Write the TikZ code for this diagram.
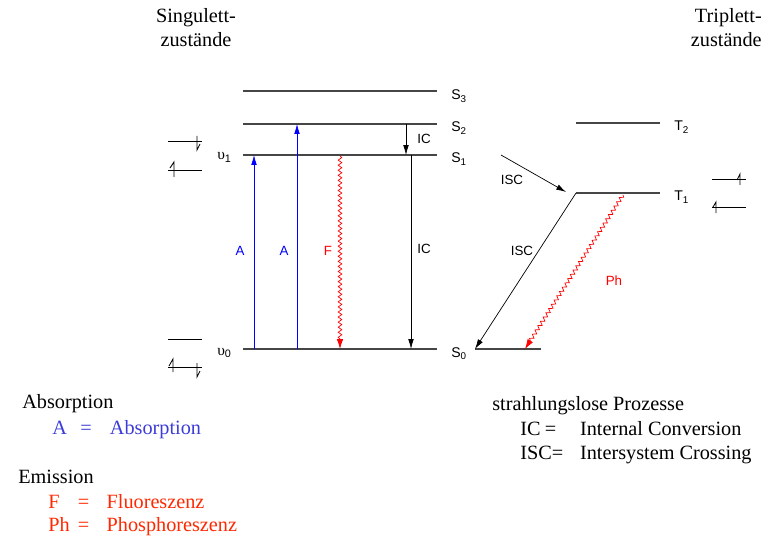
\documentclass[tikz,border=0pt]{standalone}
\usepackage{fontspec}
\setmainfont{Liberation Serif}
\setsansfont{Liberation Sans}
\usepackage{xcolor}
\usepackage{tikz}
\usetikzlibrary{arrows.meta,positioning,calc,decorations.pathmorphing}
\definecolor{absblue}{RGB}{0,0,255}
\definecolor{legblue}{RGB}{60,60,215}
\definecolor{emred}{RGB}{255,40,0}
\definecolor{levelgray}{RGB}{70,70,70}
\tikzset{
    level/.style={
        draw=levelgray,
        line width=0.75pt
    },
    transition/.style={
        -{Latex[length=7pt,width=4pt]},
        line width=0.5pt
    },
    absorb/.style={
        transition,
        draw=absblue
    },
    emit/.style={
        -{Latex[length=7pt,width=4.5pt]},
        draw=red,
        line width=0.5pt,
        decorate,
        decoration={snake, amplitude=1.3pt, segment length=3.6pt, post length=6pt}
    },
    spin/.style={
        line width=0.6pt
    },
    statelabel/.style={
        anchor=base west,
        inner sep=0pt,
        font=\sffamily\fontsize{10}{12}\selectfont
    },
    translabel/.style={
        inner sep=0pt,
        font=\sffamily\fontsize{9.5}{11}\selectfont
    },
    heading/.style={
        inner sep=0pt,
        font=\fontsize{14.4}{17}\selectfont
    },
    legend/.style={
        anchor=base west,
        inner sep=0pt,
        font=\fontsize{14.4}{17}\selectfont
    }
}

\begin{document}
\begin{tikzpicture}[x=0.025cm, y=-0.025cm]
\useasboundingbox (0,0) rectangle (769,538);

% Headings
\node[heading, align=center, anchor=north] (singulett) at (196,8) {Singulett-\\zustände};
\node[heading, align=right, anchor=north east] (triplett) at (762,8) {Triplett-\\zustände};

% Singlet levels
\coordinate (s3-left) at (243,91);
\coordinate (s3-right) at (437,91);
\coordinate (s2-left) at (243,124);
\coordinate (s2-right) at (437,124);
\coordinate (s1-left) at (243,155);
\coordinate (s1-right) at (437,155);
\coordinate (s0-left) at (243,349);
\coordinate (s0-right) at (437,349);
\draw[level] (s3-left) -- (s3-right);
\draw[level] (s2-left) -- (s2-right);
\draw[level] (s1-left) -- (s1-right);
\draw[level] (s0-left) -- (s0-right);
\node[statelabel] (s3-label) at (451,100) {S\textsubscript{3}};
\node[statelabel] (s2-label) at (451,132) {S\textsubscript{2}};
\node[statelabel] (s1-label) at (451,163) {S\textsubscript{1}};
\node[statelabel] (s0-label) at (451,357) {S\textsubscript{0}};
\node[statelabel, font=\fontsize{11}{12}\selectfont] (v1-label) at (217,160) {υ\textsubscript{\sffamily 1}};
\node[statelabel, font=\fontsize{11}{12}\selectfont] (v0-label) at (217,355) {υ\textsubscript{\sffamily 0}};

% Triplet levels
\coordinate (t2-left) at (576,123);
\coordinate (t2-right) at (660,123);
\coordinate (t1-left) at (576,193);
\coordinate (t1-right) at (660,193);
\coordinate (s0t-left) at (475,349);
\coordinate (s0t-right) at (541,349);
\draw[level] (t2-left) -- (t2-right);
\draw[level] (t1-left) -- (t1-right);
\draw[level] (s0t-left) -- (s0t-right);
\node[statelabel] (t2-label) at (674,131) {T\textsubscript{2}};
\node[statelabel] (t1-label) at (674,201) {T\textsubscript{1}};

% Absorption
\coordinate (a1-start) at (254,349);
\coordinate (a1-end) at (254,155);
\coordinate (a2-start) at (297,349);
\coordinate (a2-end) at (297,124);
\draw[absorb] (a1-start) -- (a1-end);
\draw[absorb] (a2-start) -- (a2-end);
\node[translabel, text=absblue] (a1-label) at (240,251) {A};
\node[translabel, text=absblue] (a2-label) at (284,251) {A};

% Fluorescence
\coordinate (f-start) at (340,156);
\coordinate (f-end) at (340,349);
\draw[emit] (f-start) -- (f-end);
\node[translabel, text=red] (f-label) at (328,251) {F};

% Internal conversion
\coordinate (ic1-start) at (406,124);
\coordinate (ic1-end) at (406,155);
\coordinate (ic2-start) at (411,155);
\coordinate (ic2-end) at (411,349);
\draw[transition] (ic1-start) -- (ic1-end);
\draw[transition] (ic2-start) -- (ic2-end);
\node[translabel] (ic1-label) at (424,139) {IC};
\node[translabel] (ic2-label) at (424,249) {IC};

% Intersystem crossing
\coordinate (isc1-start) at (501,155);
\coordinate (isc1-end) at (566,192);
\draw[transition] (isc1-start) -- (isc1-end);
\draw[transition] (t1-left) -- (s0t-left);
\node[translabel] (isc1-label) at (512,180) {ISC};
\node[translabel] (isc2-label) at (522,251) {ISC};

% Phosphorescence
\coordinate (ph-start) at (623,195);
\coordinate (ph-end) at (525,349);
\draw[emit] (ph-start) -- (ph-end);
\node[translabel, text=red] (ph-label) at (614,281) {Ph};

% Spin pairs
\draw[spin] (168,141) -- (202,141);
\draw[spin] (197,136) -- (197,150) -- (200,144);
\draw[spin] (168,170) -- (202,170);
\draw[spin] (174,177) -- (174,162) -- (170,168);
\draw[spin] (168,339) -- (202,339);
\draw[spin] (168,367) -- (202,367);
\draw[spin] (173,372) -- (173,359) -- (169,366);
\draw[spin] (197,363) -- (197,377) -- (200,371);
\draw[spin] (712,179) -- (746,179);
\draw[spin] (740,185) -- (740,174) -- (737,180);
\draw[spin] (712,207) -- (746,207);
\draw[spin] (716,213) -- (716,202) -- (713,207);

% Legend
\node[legend] (abs-head) at (22,408) {Absorption};
\node[legend, text=legblue] (abs-a) at (52,434) {\makebox[20pt][l]{A}\makebox[21pt][l]{=}Absorption};
\node[legend] (em-head) at (18,483) {Emission};
\node[legend, text=emred] (em-f) at (48,508) {\makebox[21pt][l]{F}\makebox[20.5pt][l]{=}Fluoreszenz};
\node[legend, text=emred] (em-ph) at (48,531) {\makebox[21pt][l]{Ph}\makebox[20.5pt][l]{=}Phosphoreszenz};
\node[legend] (rl-head) at (492,410) {strahlungslose Prozesse};
\node[legend] (rl-ic) at (520,435) {\makebox[17.5pt][l]{IC}\makebox[25pt][l]{=}Internal Conversion};
\node[legend] (rl-isc) at (520,459) {\makebox[42.5pt][l]{ISC=}Intersystem Crossing};
\end{tikzpicture}
\end{document}
